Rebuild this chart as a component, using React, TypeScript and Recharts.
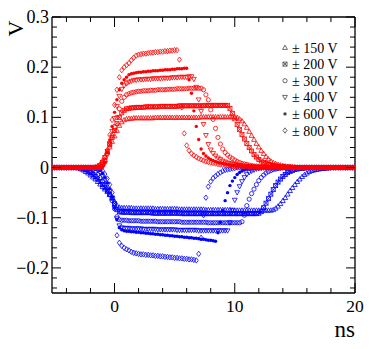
import React from 'react';
import { ScatterChart, Scatter, XAxis, YAxis } from 'recharts';

// sample times (ns)
const times = [
  -5.2, -5, -4.8, -4.6, -4.4, -4.2, -4, -3.8, -3.6, -3.4,
  -3.2, -3, -2.8, -2.6, -2.4, -2.2, -2, -1.8, -1.6, -1.4,
  -1.2, -1, -0.8, -0.6, -0.4, -0.2, 0, 0.2, 0.4, 0.6,
  0.8, 1, 1.2, 1.4, 1.6, 1.8, 2, 2.2, 2.4, 2.6,
  2.8, 3, 3.2, 3.4, 3.6, 3.8, 4, 4.2, 4.4, 4.6,
  4.8, 5, 5.2, 5.4, 5.6, 5.8, 6, 6.2, 6.4, 6.6,
  6.8, 7, 7.2, 7.4, 7.6, 7.8, 8, 8.2, 8.4, 8.6,
  8.8, 9, 9.2, 9.4, 9.6, 9.8, 10, 10.2, 10.4, 10.6,
  10.8, 11, 11.2, 11.4, 11.6, 11.8, 12, 12.2, 12.4, 12.6,
  12.8, 13, 13.2, 13.4, 13.6, 13.8, 14, 14.2, 14.4, 14.6,
  14.8, 15, 15.2, 15.4, 15.6, 15.8, 16, 16.2, 16.4, 16.6,
  16.8, 17, 17.2, 17.4, 17.6, 17.8, 18, 18.2, 18.4, 18.6,
  18.8, 19, 19.2, 19.4, 19.6, 19.8, 20,
];

// signals in mV, one value per sample time
const red150 = [
  0, 0, 0, 0, 0, 0, 0, 0, 0, 0,
  0, 0, 0, 0, 0, 0, 0, 0, 1, 3,
  7, 14, 22, 31, 41, 52, 63, 74, 84, 91,
  95, 97, 98, 98, 99, 99, 99, 99, 99, 99,
  99, 99, 99, 100, 100, 100, 100, 100, 100, 100,
  100, 100, 100, 100, 100, 100, 100, 100, 100, 100,
  100, 100, 101, 101, 101, 101, 101, 101, 101, 101,
  101, 101, 101, 101, 101, 101, 101, 100, 97, 93,
  87, 80, 72, 64, 56, 48, 41, 34, 28, 22,
  17, 13, 10, 8, 6, 5, 4, 3, 2, 2,
  1, 1, 0, 0, 0, 0, 0, 0, 0, 0,
  0, 0, 0, 0, 0, 0, 0, 0, 0, 0,
  0, 0, 0, 0, 0, 0, 0,
];
const red200 = [
  0, 0, 0, 0, 0, 0, 0, 0, 0, 0,
  0, 0, 0, 0, 0, 0, 0, 0, 0, 1,
  4, 10, 20, 32, 46, 60, 74, 88, 100, 109,
  114, 117, 118, 119, 119, 120, 120, 120, 120, 121,
  121, 121, 121, 121, 121, 122, 122, 122, 122, 122,
  122, 122, 122, 123, 123, 123, 123, 123, 123, 123,
  123, 123, 123, 123, 124, 124, 124, 124, 124, 124,
  124, 124, 124, 124, 118, 108, 97, 86, 76, 66,
  57, 48, 40, 33, 26, 21, 16, 13, 10, 8,
  6, 5, 4, 3, 3, 2, 2, 1, 1, 1,
  0, 0, 0, 0, 0, 0, 0, 0, 0, 0,
  0, 0, 0, 0, 0, 0, 0, 0, 0, 0,
  0, 0, 0, 0, 0, 0, 0,
];
const red300 = [
  0, 0, 0, 0, 0, 0, 0, 0, 0, 0,
  0, 0, 0, 0, 0, 0, 0, 0, 0, 0,
  1, 5, 14, 28, 45, 63, 82, 100, 117, 132,
  140, 145, 147, 149, 150, 151, 152, 152, 153, 153,
  153, 154, 154, 154, 155, 155, 155, 155, 156, 156,
  156, 156, 157, 157, 157, 157, 157, 158, 158, 158,
  158, 158, 158, 155, 145, 135, 115, 96, 78, 60,
  47, 37, 30, 25, 21, 18, 15, 12, 10, 8,
  7, 6, 5, 4, 3, 3, 2, 2, 1, 1,
  1, 0, 0, 0, 0, 0, 0, 0, 0, 0,
  0, 0, 0, 0, 0, 0, 0, 0, 0, 0,
  0, 0, 0, 0, 0, 0, 0, 0, 0, 0,
  0, 0, 0, 0, 0, 0, 0,
];
const red400 = [
  0, 0, 0, 0, 0, 0, 0, 0, 0, 0,
  0, 0, 0, 0, 0, 0, 0, 0, 0, 0,
  0, 1, 8, 25, 48, 72, 98, 122, 142, 156,
  163, 167, 170, 172, 174, 174, 175, 175, 175, 176,
  176, 176, 177, 177, 177, 177, 178, 178, 178, 178,
  179, 179, 179, 180, 180, 180, 180, 181, 181, 176,
  160, 135, 112, 86, 64, 46, 35, 28, 23, 19,
  16, 13, 11, 9, 8, 7, 6, 5, 4, 3,
  3, 2, 2, 1, 1, 1, 0, 0, 0, 0,
  0, 0, 0, 0, 0, 0, 0, 0, 0, 0,
  0, 0, 0, 0, 0, 0, 0, 0, 0, 0,
  0, 0, 0, 0, 0, 0, 0, 0, 0, 0,
  0, 0, 0, 0, 0, 0, 0,
];
const red600 = [
  0, 0, 0, 0, 0, 0, 0, 0, 0, 0,
  0, 0, 0, 0, 0, 0, 0, 0, 0, 0,
  0, 2, 10, 30, 55, 82, 110, 135, 155, 168,
  175, 180, 185, 187, 188, 189, 190, 190, 191, 191,
  192, 192, 193, 193, 193, 194, 194, 195, 195, 195,
  196, 196, 197, 197, 197, 198, 198, 175, 148, 113,
  82, 56, 37, 28, 23, 19, 16, 14, 12, 10,
  9, 8, 7, 6, 5, 4, 4, 3, 3, 2,
  2, 2, 1, 1, 1, 0, 0, 0, 0, 0,
  0, 0, 0, 0, 0, 0, 0, 0, 0, 0,
  0, 0, 0, 0, 0, 0, 0, 0, 0, 0,
  0, 0, 0, 0, 0, 0, 0, 0, 0, 0,
  0, 0, 0, 0, 0, 0, 0,
];
const red800 = [
  0, 0, 0, 0, 0, 0, 0, 0, 0, 0,
  0, 0, 0, 0, 0, 0, 0, 0, 0, 0,
  0, 2, 12, 35, 65, 95, 125, 155, 180, 194,
  200, 204, 208, 214, 219, 223, 225, 226, 227, 227,
  228, 229, 229, 230, 230, 231, 231, 232, 232, 233,
  233, 234, 234, 215, 120, 68, 44, 34, 28, 24,
  21, 18, 16, 14, 12, 11, 10, 9, 8, 7,
  6, 5, 5, 4, 4, 3, 3, 2, 2, 2,
  1, 1, 1, 1, 1, 0, 0, 0, 0, 0,
  0, 0, 0, 0, 0, 0, 0, 0, 0, 0,
  0, 0, 0, 0, 0, 0, 0, 0, 0, 0,
  0, 0, 0, 0, 0, 0, 0, 0, 0, 0,
  0, 0, 0, 0, 0, 0, 0,
];

const blue150 = [
  0, 0, 0, 0, 0, 0, 0, 0, 0, 0,
  0, -1, -3, -5, -8, -11, -15, -19, -23, -28,
  -33, -38, -43, -48, -54, -60, -67, -75, -79, -80,
  -80, -80, -80, -80, -81, -81, -81, -81, -81, -81,
  -81, -81, -81, -82, -82, -82, -82, -82, -82, -82,
  -82, -82, -82, -83, -83, -83, -83, -83, -83, -83,
  -83, -83, -83, -83, -84, -84, -84, -84, -84, -84,
  -84, -84, -84, -84, -84, -85, -85, -85, -85, -85,
  -85, -85, -85, -85, -85, -85, -85, -85, -85, -85,
  -85, -85, -84, -81, -77, -72, -66, -60, -53, -46,
  -40, -34, -28, -23, -18, -14, -11, -8, -6, -5,
  -4, -3, -2, -2, -1, -1, 0, 0, 0, 0,
  0, 0, 0, 0, 0, 0, 0,
];
const blue200 = [
  0, 0, 0, 0, 0, 0, 0, 0, 0, 0,
  0, 0, 0, -2, -4, -7, -10, -14, -18, -23,
  -28, -34, -40, -46, -53, -61, -72, -84, -88, -89,
  -89, -89, -89, -90, -90, -90, -90, -90, -90, -90,
  -90, -90, -91, -91, -91, -91, -91, -91, -91, -91,
  -91, -91, -91, -91, -92, -92, -92, -92, -92, -92,
  -92, -92, -92, -92, -92, -92, -92, -92, -92, -92,
  -92, -92, -92, -92, -92, -92, -92, -92, -92, -92,
  -92, -92, -92, -92, -92, -92, -91, -88, -80, -71,
  -62, -53, -44, -36, -29, -23, -18, -14, -10, -8,
  -6, -4, -3, -2, -2, -1, 0, 0, 0, 0,
  0, 0, 0, 0, 0, 0, 0, 0, 0, 0,
  0, 0, 0, 0, 0, 0, 0,
];
const blue300 = [
  0, 0, 0, 0, 0, 0, 0, 0, 0, 0,
  0, 0, 0, 0, 0, 0, -2, -5, -9, -14,
  -20, -27, -35, -44, -54, -66, -82, -98, -104, -105,
  -105, -105, -106, -106, -106, -106, -106, -107, -107, -107,
  -107, -107, -107, -107, -108, -108, -108, -108, -108, -108,
  -108, -108, -108, -108, -109, -109, -109, -109, -109, -109,
  -109, -109, -109, -109, -109, -110, -110, -110, -110, -110,
  -110, -110, -110, -110, -110, -110, -110, -110, -110, -108,
  -95, -76, -63, -52, -43, -34, -26, -20, -15, -11,
  -8, -6, -4, -3, -2, -1, 0, 0, 0, 0,
  0, 0, 0, 0, 0, 0, 0, 0, 0, 0,
  0, 0, 0, 0, 0, 0, 0, 0, 0, 0,
  0, 0, 0, 0, 0, 0, 0,
];
const blue400 = [
  0, 0, 0, 0, 0, 0, 0, 0, 0, 0,
  0, 0, 0, 0, 0, 0, 0, 0, -2, -5,
  -10, -17, -25, -35, -47, -61, -80, -102, -116, -120,
  -121, -121, -121, -122, -122, -122, -122, -122, -123, -123,
  -123, -123, -123, -123, -124, -124, -124, -124, -124, -124,
  -124, -124, -125, -125, -125, -125, -125, -125, -125, -125,
  -125, -126, -126, -126, -126, -126, -126, -126, -126, -126,
  -126, -126, -126, -126, -110, -85, -65, -50, -38, -28,
  -20, -14, -10, -7, -5, -3, -2, -1, 0, 0,
  0, 0, 0, 0, 0, 0, 0, 0, 0, 0,
  0, 0, 0, 0, 0, 0, 0, 0, 0, 0,
  0, 0, 0, 0, 0, 0, 0, 0, 0, 0,
  0, 0, 0, 0, 0, 0, 0,
];
const blue600 = [
  0, 0, 0, 0, 0, 0, 0, 0, 0, 0,
  0, 0, 0, 0, 0, 0, 0, 0, 0, -2,
  -6, -12, -20, -30, -42, -58, -80, -104, -120, -124,
  -126, -127, -127, -128, -128, -129, -129, -130, -130, -131,
  -131, -132, -132, -133, -133, -134, -134, -135, -135, -136,
  -136, -137, -137, -138, -138, -139, -139, -140, -140, -141,
  -141, -142, -143, -143, -144, -145, -145, -146, -147, -130,
  -109, -86, -66, -50, -36, -27, -20, -14, -10, -7,
  -5, -3, -2, -1, 0, 0, 0, 0, 0, 0,
  0, 0, 0, 0, 0, 0, 0, 0, 0, 0,
  0, 0, 0, 0, 0, 0, 0, 0, 0, 0,
  0, 0, 0, 0, 0, 0, 0, 0, 0, 0,
  0, 0, 0, 0, 0, 0, 0,
];
const blue800 = [
  0, 0, 0, 0, 0, 0, 0, 0, 0, 0,
  0, 0, 0, 0, 0, 0, 0, 0, 0, 0,
  -2, -6, -13, -22, -34, -50, -72, -135, -150, -156,
  -160, -163, -165, -168, -170, -171, -172, -173, -173, -174,
  -174, -175, -175, -176, -176, -177, -177, -178, -178, -179,
  -179, -180, -180, -181, -181, -182, -182, -183, -183, -184,
  -185, -172, -140, -95, -60, -38, -28, -21, -17, -13,
  -10, -7, -5, -4, -3, -2, -1, 0, 0, 0,
  0, 0, 0, 0, 0, 0, 0, 0, 0, 0,
  0, 0, 0, 0, 0, 0, 0, 0, 0, 0,
  0, 0, 0, 0, 0, 0, 0, 0, 0, 0,
  0, 0, 0, 0, 0, 0, 0, 0, 0, 0,
  0, 0, 0, 0, 0, 0, 0,
];

const legendLabels = ['± 150 V', '± 200 V', '± 300 V', '± 400 V', '± 600 V', '± 800 V'];
const markerKinds = ['tri', 'sqx', 'circ', 'tridown', 'star', 'diam'];
const redSeries = [red150, red200, red300, red400, red600, red800];
const blueSeries = [blue150, blue200, blue300, blue400, blue600, blue800];

const xTicks = [-4, -2, 0, 2, 4, 6, 8, 10, 12, 14, 16, 18, 20];
const xMajor = [0, 10, 20];
const yTicks = [
  -0.24, -0.22, -0.2, -0.18, -0.16, -0.14, -0.12, -0.1, -0.08, -0.06, -0.04, -0.02,
  0, 0.02, 0.04, 0.06, 0.08, 0.1, 0.12, 0.14, 0.16, 0.18, 0.2, 0.22, 0.24, 0.26, 0.28, 0.3,
];
const yMajor = [-0.2, -0.1, 0, 0.1, 0.2, 0.3];
const yLabels = ['\u22120.2', '\u22120.1', '0', '0.1', '0.2', '0.3'];

const FONT = '"Liberation Serif", "Times New Roman", serif';
const RED = '#ff0000';
const BLUE = '#0000ff';

const toPoints = (vals: number[]) => times.map((t, i) => ({ t, v: vals[i] / 1000 }));

const Marker = ({ kind, cx, cy, color }: { kind: string; cx: number; cy: number; color: string }) => {
  const s = 2.4;
  const sw = 0.8;
  switch (kind) {
    case 'tri':
      return <polygon points={`${cx},${cy - s} ${cx - s},${cy + s * 0.8} ${cx + s},${cy + s * 0.8}`} fill="none" stroke={color} strokeWidth={sw} />;
    case 'tridown':
      return <polygon points={`${cx},${cy + s} ${cx - s},${cy - s * 0.8} ${cx + s},${cy - s * 0.8}`} fill="none" stroke={color} strokeWidth={sw} />;
    case 'sqx':
      return (
        <g stroke={color} strokeWidth={sw} fill="none">
          <rect x={cx - 2} y={cy - 2} width={4} height={4} />
          <path d={`M${cx - 2},${cy - 2}L${cx + 2},${cy + 2}M${cx - 2},${cy + 2}L${cx + 2},${cy - 2}`} />
        </g>
      );
    case 'circ':
      return <circle cx={cx} cy={cy} r={2.1} fill="none" stroke={color} strokeWidth={sw} />;
    case 'star':
      return <circle cx={cx} cy={cy} r={1.7} fill={color} stroke="none" />;
    default:
      return <polygon points={`${cx},${cy - 2.7} ${cx + 2},${cy} ${cx},${cy + 2.7} ${cx - 2},${cy}`} fill="none" stroke={color} strokeWidth={sw} />;
  }
};

const isMajorY = (v: number) => yMajor.some((m) => Math.abs(m - v) < 1e-6);

const BottomTick = (props: any) => {
  const { x, y, payload } = props;
  const major = xMajor.includes(payload.value);
  return (
    <g>
      <line x1={x} x2={x} y1={y} y2={y - (major ? 10 : 5)} stroke="#000" strokeWidth={1} />
      {major && (
        <text x={x} y={y + 19} textAnchor="middle" fontSize={17.5} fontFamily={FONT} fill="#000">
          {payload.value}
        </text>
      )}
    </g>
  );
};

const TopTick = (props: any) => {
  const { x, y, payload } = props;
  const major = xMajor.includes(payload.value);
  return <line x1={x} x2={x} y1={y} y2={y + (major ? 10 : 5)} stroke="#000" strokeWidth={1} />;
};

const LeftTick = (props: any) => {
  const { x, y, payload } = props;
  const major = isMajorY(payload.value);
  const idx = yMajor.findIndex((m) => Math.abs(m - payload.value) < 1e-6);
  return (
    <g>
      <line x1={x} x2={x + (major ? 9 : 5)} y1={y} y2={y} stroke="#000" strokeWidth={1} />
      {major && (
        <text x={x - 3} y={y + 6} textAnchor="end" fontSize={18} fontFamily={FONT} fill="#000">
          {yLabels[idx]}
        </text>
      )}
    </g>
  );
};

const RightTick = (props: any) => {
  const { x, y, payload } = props;
  const major = isMajorY(payload.value);
  return <line x1={x} x2={x - (major ? 9 : 5)} y1={y} y2={y} stroke="#000" strokeWidth={1} />;
};

export default function App() {
  const W = 374;
  const H = 349;
  return (
    <div style={{ position: 'absolute', left: 0, top: 0, width: W, height: H, background: '#fff' }}>
      <ScatterChart width={W} height={H} margin={{ top: 7, right: 9, bottom: 26, left: 12 }}>
        <XAxis
          xAxisId="b"
          type="number"
          dataKey="t"
          domain={[-5.2, 20]}
          allowDataOverflow
          ticks={xTicks}
          interval={0}
          height={30}
          tickSize={0}
          tickMargin={0}
          tickLine={false}
          axisLine={{ stroke: '#000', strokeWidth: 1.3 }}
          tick={<BottomTick />}
        />
        <XAxis
          xAxisId="t"
          orientation="top"
          type="number"
          dataKey="t"
          domain={[-5.2, 20]}
          allowDataOverflow
          ticks={xTicks}
          interval={0}
          height={10}
          tickSize={0}
          tickMargin={0}
          tickLine={false}
          axisLine={{ stroke: '#000', strokeWidth: 1.3 }}
          tick={<TopTick />}
        />
        <YAxis
          yAxisId="l"
          type="number"
          dataKey="v"
          domain={[-0.25, 0.3]}
          allowDataOverflow
          ticks={yTicks}
          interval={0}
          width={40}
          tickSize={0}
          tickMargin={0}
          tickLine={false}
          axisLine={{ stroke: '#000', strokeWidth: 1.3 }}
          tick={<LeftTick />}
        />
        <YAxis
          yAxisId="r"
          orientation="right"
          type="number"
          dataKey="v"
          domain={[-0.25, 0.3]}
          allowDataOverflow
          ticks={yTicks}
          interval={0}
          width={10}
          tickSize={0}
          tickMargin={0}
          tickLine={false}
          axisLine={{ stroke: '#000', strokeWidth: 1.3 }}
          tick={<RightTick />}
        />
        {blueSeries.map((vals, k) => (
          <Scatter
            key={`b${k}`}
            xAxisId="b"
            yAxisId="l"
            data={toPoints(vals)}
            isAnimationActive={false}
            shape={(p: any) => <Marker kind={markerKinds[k]} cx={p.cx} cy={p.cy} color={BLUE} />}
          />
        ))}
        {redSeries.map((vals, k) => (
          <Scatter
            key={`r${k}`}
            xAxisId="b"
            yAxisId="l"
            data={toPoints(vals)}
            isAnimationActive={false}
            shape={(p: any) => <Marker kind={markerKinds[k]} cx={p.cx} cy={p.cy} color={RED} />}
          />
        ))}
        <Scatter xAxisId="t" yAxisId="r" data={toPoints(red800)} isAnimationActive={false} shape={() => <g />} />
      </ScatterChart>
      <svg width={W} height={H} style={{ position: 'absolute', left: 0, top: 0, pointerEvents: 'none' }}>
        <text
          transform="translate(15,28.5) rotate(-90)"
          textAnchor="middle"
          dominantBaseline="central"
          fontSize={22}
          fontFamily={FONT}
          fill="#000"
        >
          V
        </text>
        <text x={355} y={337} textAnchor="end" fontSize={23} fontFamily={FONT} fill="#000">
          ns
        </text>
        {legendLabels.map((label, k) => {
          const cy = 47.5 + k * 16.6;
          return (
            <g key={label}>
              <Marker kind={markerKinds[k]} cx={285} cy={cy} color="#444" />
              <text x={292} y={cy + 5} fontSize={14} fontFamily={FONT} fill="#000">
                {label}
              </text>
            </g>
          );
        })}
      </svg>
    </div>
  );
}
